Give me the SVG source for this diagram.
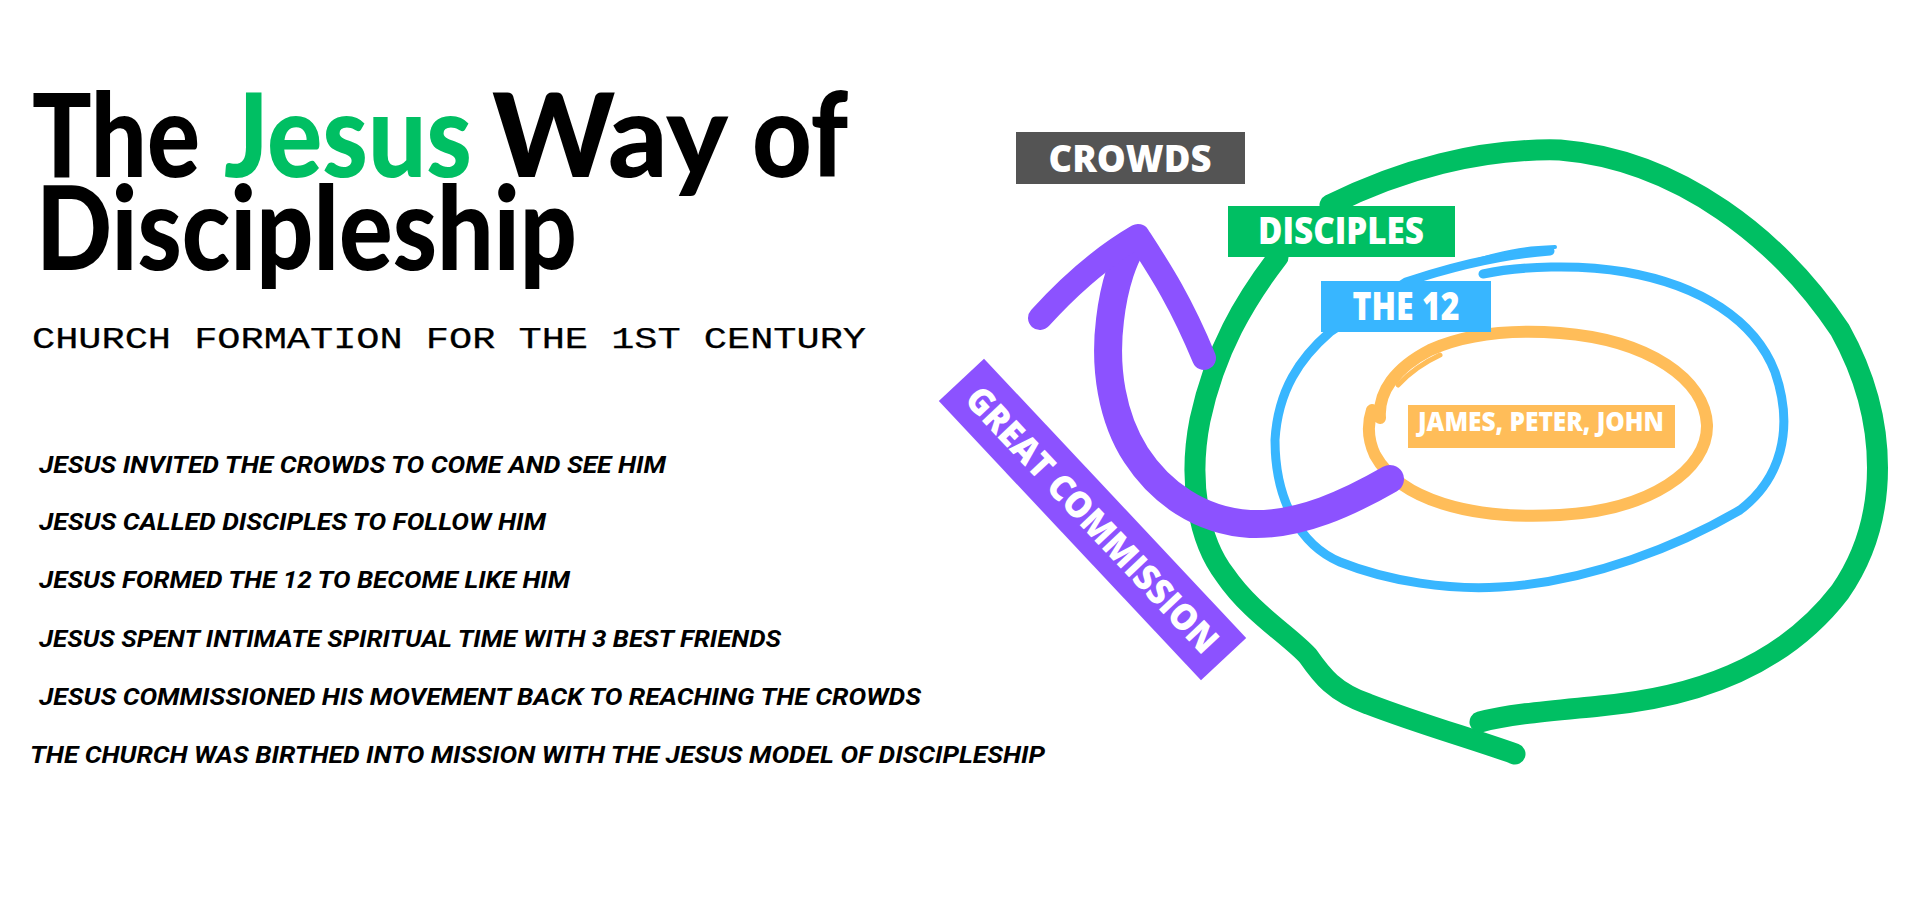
<svg xmlns="http://www.w3.org/2000/svg" width="1920" height="900" viewBox="0 0 1920 900">
<style>
.title{font-family:Lato,"Noto Sans","Liberation Sans",sans-serif;font-weight:900;font-size:116px;fill:#000}
.sub{font-family:"Liberation Mono","DejaVu Sans Mono",monospace;font-size:30px;fill:#000;stroke:#000;stroke-width:0.25}
.item{font-family:Roboto,"Liberation Sans",sans-serif;font-weight:700;font-style:italic;font-size:24px;fill:#000}
.lbl{font-family:"Open Sans","Liberation Sans",sans-serif;font-weight:800;fill:#fff;text-anchor:middle}
.ring{fill:none;stroke-linecap:round;stroke-linejoin:round}
</style>
<rect width="1920" height="900" fill="#fff"/>
<g id="title">
<text class="title"><tspan x="32" y="177" textLength="168" lengthAdjust="spacingAndGlyphs">The</tspan><tspan x="224" y="177" textLength="248" lengthAdjust="spacingAndGlyphs" style="fill:#00bf63">Jesus</tspan><tspan x="492" y="177" textLength="236" lengthAdjust="spacingAndGlyphs">Way</tspan><tspan x="752" y="177" textLength="96" lengthAdjust="spacingAndGlyphs">of</tspan><tspan x="36" y="270" textLength="541" lengthAdjust="spacingAndGlyphs">Discipleship</tspan></text>
<text class="sub" x="32" y="348" textLength="834" lengthAdjust="spacingAndGlyphs">CHURCH FORMATION FOR THE 1ST CENTURY</text>
</g>
<g id="list">
<text class="item" x="39" y="473" textLength="627" lengthAdjust="spacingAndGlyphs">JESUS INVITED THE CROWDS TO COME AND SEE HIM</text>
<text class="item" x="39" y="530" textLength="507" lengthAdjust="spacingAndGlyphs">JESUS CALLED DISCIPLES TO FOLLOW HIM</text>
<text class="item" x="39" y="588" textLength="531" lengthAdjust="spacingAndGlyphs">JESUS FORMED THE 12 TO BECOME LIKE HIM</text>
<text class="item" x="39" y="647" textLength="742" lengthAdjust="spacingAndGlyphs">JESUS SPENT INTIMATE SPIRITUAL TIME WITH 3 BEST FRIENDS</text>
<text class="item" x="39" y="705" textLength="882" lengthAdjust="spacingAndGlyphs">JESUS COMMISSIONED HIS MOVEMENT BACK TO REACHING THE CROWDS</text>
<text class="item" x="30" y="763" textLength="1015" lengthAdjust="spacingAndGlyphs">THE CHURCH WAS BIRTHED INTO MISSION WITH THE JESUS MODEL OF DISCIPLESHIP</text>
</g>
<g id="rings">
<path class="ring" stroke="#00bf63" stroke-width="21" d="M1278,257 C1245,300 1215,350 1200,420 C1188,480 1198,540 1225,575 C1250,612 1290,636 1308,656 C1322,676 1334,692 1368,704 C1420,724 1470,738 1515,754"/>
<path class="ring" stroke="#00bf63" stroke-width="21" d="M1330,205 C1400,170 1480,148 1560,150 C1680,160 1780,240 1840,330 C1890,420 1890,520 1840,592 C1780,670 1690,698 1600,706 C1550,711 1510,714 1480,722"/>
<path class="ring" stroke="#38b6ff" stroke-width="9" d="M1550,251 C1510,254 1460,264 1406,282 L1330,332 C1300,358 1278,390 1275,440 C1275,500 1300,545 1340,562 C1390,582 1450,590 1500,587 C1590,582 1680,545 1740,510 C1780,480 1795,430 1775,372 C1755,320 1700,285 1625,272 C1580,264 1520,266 1483,274"/>
<path class="ring" stroke="#38b6ff" stroke-width="4" d="M1478,260 C1510,250 1530,248 1555,247"/>
<path class="ring" stroke="#ffbd59" stroke-width="12" d="M1380,418 C1378,392 1395,368 1430,350 C1470,332 1520,330 1560,333 C1650,340 1705,380 1707,425 C1708,470 1650,510 1560,515 C1470,520 1400,500 1375,455 C1368,440 1367,425 1372,410"/>
<path class="ring" stroke="#ffbd59" stroke-width="5" d="M1398,385 C1410,372 1425,362 1440,355"/>
</g>
<g id="connectors">
<path class="ring" stroke="#8c52ff" stroke-width="28" d="M1390,479 C1350,502 1300,526 1250,524 C1200,521 1160,492 1136,455 C1112,418 1104,368 1110,320 C1114,285 1124,255 1136,240"/>
<path class="ring" stroke="#8c52ff" stroke-width="24" d="M1040,318 C1070,285 1105,255 1138,236 C1160,270 1180,300 1204,358"/>
</g>
<g id="crowds">
<rect x="1016" y="132" width="229" height="52" fill="#545454"/>
<text class="lbl" x="1130" y="172" font-size="37" textLength="163" lengthAdjust="spacingAndGlyphs">CROWDS</text>
</g>
<g id="disciples">
<rect x="1228" y="206" width="227" height="51" fill="#00bf63"/>
<text class="lbl" x="1341" y="244" font-size="37" textLength="166" lengthAdjust="spacingAndGlyphs">DISCIPLES</text>
</g>
<g id="the12">
<rect x="1321" y="281" width="170" height="51" fill="#38b6ff"/>
<text class="lbl" x="1406" y="320" font-size="38" textLength="107" lengthAdjust="spacingAndGlyphs">THE 12</text>
</g>
<g id="inner">
<rect x="1408" y="405" width="267" height="43" fill="#ffbd59"/>
<text class="lbl" x="1541" y="431" font-size="26" textLength="246" lengthAdjust="spacingAndGlyphs">JAMES, PETER, JOHN</text>
</g>
<g id="great-commission" transform="translate(1092.5,519.5) rotate(46.8)">
<rect x="-191.5" y="-31" width="383" height="62" fill="#8c52ff"/>
<text class="lbl" x="0" y="13" font-size="36" textLength="350" lengthAdjust="spacingAndGlyphs">GREAT COMMISSION</text>
</g>
</svg>
